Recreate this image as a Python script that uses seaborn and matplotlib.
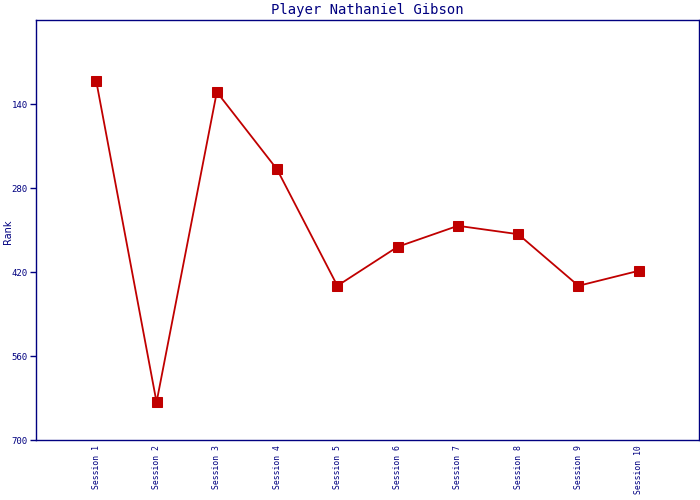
import seaborn as sns
import matplotlib.pyplot as plt
import pandas as pd

sessions = ["Session 1", "Session 2", "Session 3", "Session 4", "Session 5",
            "Session 6", "Session 7", "Session 8", "Session 9", "Session 10"]
ranks = [102, 637, 120, 249, 443, 378, 343, 357, 443, 418]
rank_ticks = [140, 280, 420, 560, 700]

navy = "#000080"
red = "#C00000"

sns.set_style("white")
plt.rcParams['font.family'] = ['DejaVu Sans Mono']

df = pd.DataFrame({"session": sessions, "rank": ranks})

fig = plt.figure(figsize=(7, 5), dpi=100)
ax = fig.add_axes([36 / 700, 60 / 500, 663 / 700, 420 / 500])
sns.lineplot(data=df, x="session", y="rank", ax=ax, color=red, linewidth=1.3,
             marker="s", markersize=7, markeredgecolor=red, sort=False)

ax.set_xlim(-1, 10)
ax.set_ylim(700, 0)
ax.set_yticks(rank_ticks)
ax.set_yticklabels([str(t) for t in rank_ticks], fontsize=6.5, color=navy)
ax.set_xticks(range(len(sessions)))
ax.set_xticklabels(sessions, rotation=90, fontsize=5.9, color=navy)
ax.tick_params(axis="y", length=4, width=1, color=navy, left=True, pad=2)
ax.tick_params(axis="x", length=0, pad=3.5)
for s in ax.spines.values():
    s.set_color(navy)
    s.set_linewidth(1)

ax.set_xlabel("")
ax.set_ylabel("Rank", fontsize=7, color=navy, family="DejaVu Sans")
ax.yaxis.set_label_coords(-0.0347, 0.495)
ax.set_title("Player Nathaniel Gibson", fontsize=10, color=navy, pad=4)

fig.savefig("out.png", dpi=100)
